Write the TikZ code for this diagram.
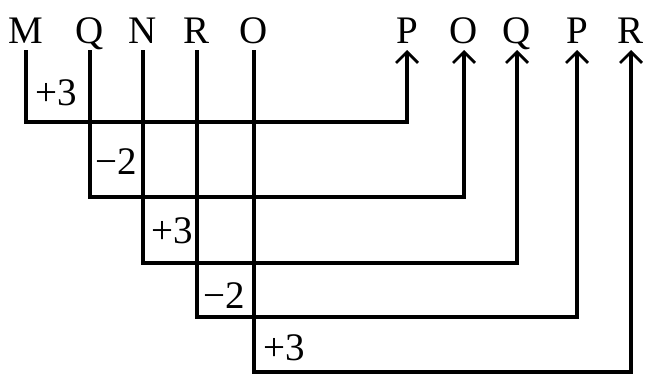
\documentclass[tikz,border=0pt]{standalone}
\usepackage{fontspec}
\setmainfont{Liberation Serif}
\usetikzlibrary{arrows.meta}

\tikzset{
  letter/.style={anchor=base,inner sep=0pt,font=\fontsize{39}{47}\selectfont},
  steplabel/.style={inner sep=0pt,font=\fontsize{39}{47}\selectfont},
  link/.style={line width=3.4pt}
}

\begin{document}
\begin{tikzpicture}[x=1pt,y=-1pt,>={Straight Barb[length=11pt,width=22pt,line width=2.8pt]}]
  \useasboundingbox (0,0) rectangle (649,378);
  % top row, left word
  \node[letter] (m) at (26,43) {M};
  \node[letter] (q) at (90,43) {Q};
  \node[letter] (n) at (143,43) {N};
  \node[letter] (r) at (197,43) {R};
  \node[letter] (o) at (254,43) {O};
  % top row, right word
  \node[letter] (p2) at (407,43) {P};
  \node[letter] (o2) at (464,43) {O};
  \node[letter] (q2) at (517,43) {Q};
  \node[letter] (p3) at (577,43) {P};
  \node[letter] (r2) at (631,43) {R};
  % levels
  \coordinate (top) at (0,50);
  \coordinate (l1) at (0,122);
  \coordinate (l2) at (0,197);
  \coordinate (l3) at (0,263);
  \coordinate (l4) at (0,317);
  \coordinate (l5) at (0,372);
  \draw[link,->] (m |- top) -- (m |- l1) -| (p2 |- top);
  \draw[link,->] (q |- top) -- (q |- l2) -| (o2 |- top);
  \draw[link,->] (n |- top) -- (n |- l3) -| (q2 |- top);
  \draw[link,->] (r |- top) -- (r |- l4) -| (p3 |- top);
  \draw[link,->] (o |- top) -- (o |- l5) -| (r2 |- top);
  % shifts
  \node[steplabel] (s1) at (56,93) {+3};
  \node[steplabel] (s2) at (116,162) {−2};
  \node[steplabel] (s3) at (172,231) {+3};
  \node[steplabel] (s4) at (224,296) {−2};
  \node[steplabel] (s5) at (284,348) {+3};
\end{tikzpicture}
\end{document}
